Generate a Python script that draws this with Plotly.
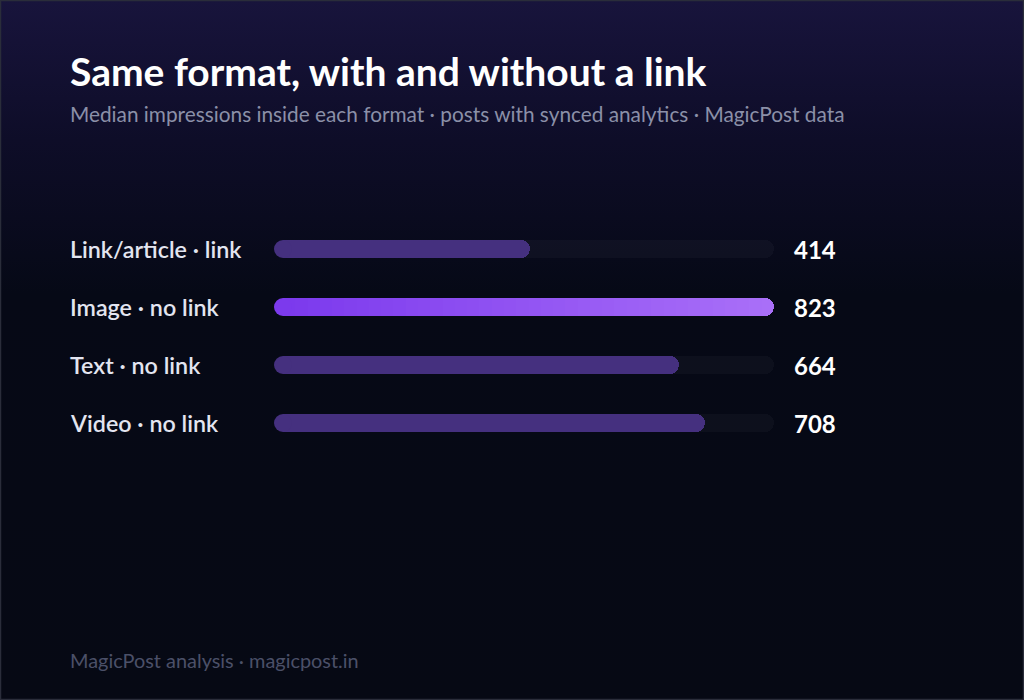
import base64
import plotly.graph_objects as go

categories = ["Link/article · link", "Image · no link", "Text · no link", "Video · no link"]
values = [414, 823, 664, 708]
highlight = "Image · no link"

title = "Same format, with and without a link"
subtitle = "Median impressions inside each format · posts with synced analytics · MagicPost data"
footer = "MagicPost analysis · magicpost.in"

W, H = 1024, 700
FONT = "Lato"
BAR_COLOR = "#45307f"
GRAD_START = (0x7c, 0x3a, 0xed)
GRAD_END = (0xa9, 0x6f, 0xf8)
TRACK = "rgba(255,255,255,0.03)"
BAR_PX = 18
vmax = max(values)
TX = 68 / W

fig = go.Figure()

# tracks (own subplot so rounding of value bars is independent)
fig.add_trace(go.Bar(
    y=categories, x=[vmax] * len(categories), orientation="h",
    marker=dict(color=TRACK, cornerradius=BAR_PX // 2, line=dict(width=0)),
    width=0.31, hoverinfo="skip", showlegend=False, xaxis="x",
))

def hexc(c):
    return "#%02x%02x%02x" % c

def lerp(a, b, t):
    return tuple(int(round(a[i] + (b[i] - a[i]) * t)) for i in range(3))

for cat, v in zip(categories, values):
    if cat == highlight:
        fig.add_trace(go.Bar(
            y=[cat], x=[v], orientation="h", xaxis="x2",
            marker=dict(color=hexc(GRAD_END), cornerradius=BAR_PX // 2, line=dict(width=0)),
            width=0.31, hoverinfo="skip", showlegend=False,
        ))
        n = 40
        seg = v / n
        fig.add_trace(go.Bar(
            y=[cat] * (n - 1), x=[seg * 1.02] * (n - 1), base=[seg * i for i in range(n - 1)],
            orientation="h", xaxis="x2",
            marker=dict(color=[hexc(lerp(GRAD_START, GRAD_END, i / (n - 1))) for i in range(n - 1)],
                        line=dict(width=0)),
            width=0.31, hoverinfo="skip", showlegend=False,
        ))
        cap = hexc(GRAD_START)
    else:
        fig.add_trace(go.Bar(
            y=[cat], x=[v], orientation="h", xaxis="x2",
            marker=dict(color=BAR_COLOR, cornerradius=BAR_PX // 2, line=dict(width=0)),
            width=0.31, hoverinfo="skip", showlegend=False,
        ))
        cap = BAR_COLOR
    fig.add_trace(go.Scatter(
        x=[0], y=[cat], mode="markers", cliponaxis=False, xaxis="x2",
        marker=dict(size=BAR_PX, color=cap, line=dict(width=0)),
        hoverinfo="skip", showlegend=False,
    ))

annotations = []
for cat, v in zip(categories, values):
    annotations.append(dict(
        x=TX, xref="paper", y=cat, yref="y", xanchor="left", yanchor="middle",
        text=cat, showarrow=False,
        font=dict(family=FONT, size=23.3, color="#e3e5f0", weight=600),
    ))
    annotations.append(dict(
        x=792 / W, xref="paper", y=cat, yref="y", xanchor="left", yanchor="middle",
        text=f"<b>{v}</b>", showarrow=False,
        font=dict(family=FONT, size=24, color="#ffffff"),
    ))

annotations += [
    dict(x=TX, y=1 - 71 / H, xref="paper", yref="paper", xanchor="left", yanchor="middle",
         text=f"<b>{title}</b>", showarrow=False, font=dict(family=FONT, size=39, color="#ffffff")),
    dict(x=TX, y=1 - 114 / H, xref="paper", yref="paper", xanchor="left", yanchor="middle",
         text=subtitle, showarrow=False, font=dict(family=FONT, size=20.8, color="#8b90a8")),
    dict(x=TX, y=1 - 660 / H, xref="paper", yref="paper", xanchor="left", yanchor="middle",
         text=footer, showarrow=False, font=dict(family=FONT, size=19.9, color="#4b5068")),
]

svg = f'''<svg xmlns="http://www.w3.org/2000/svg" width="{W}" height="{H}" viewBox="0 0 {W} {H}" preserveAspectRatio="none">
<defs><linearGradient id="g" x1="0" y1="0" x2="0" y2="1">
<stop offset="0" stop-color="#18143c"/>
<stop offset="0.2" stop-color="#0e0d28"/>
<stop offset="0.42" stop-color="#060916"/>
<stop offset="1" stop-color="#060914"/>
</linearGradient></defs>
<rect width="{W}" height="{H}" fill="url(#g)"/>
<rect x="0.5" y="0.5" width="{W-1}" height="{H-1}" fill="none" stroke="#2a2d3a" stroke-width="1.5"/>
</svg>'''
src = "data:image/svg+xml;base64," + base64.b64encode(svg.encode()).decode()

row_px = 58
top_px = 249 - row_px / 2
bot_px = top_px + row_px * len(categories)
xdom = [283 / W, 774 / W]

fig.update_layout(
    width=W, height=H,
    margin=dict(l=0, r=0, t=0, b=0),
    paper_bgcolor="#060914", plot_bgcolor="rgba(0,0,0,0)",
    barmode="overlay", bargap=0,
    showlegend=False,
    xaxis=dict(domain=xdom, range=[0, vmax], visible=False, fixedrange=True),
    xaxis2=dict(domain=xdom, range=[0, vmax], visible=False, fixedrange=True,
                overlaying="x", anchor="y"),
    yaxis=dict(domain=[1 - bot_px / H, 1 - top_px / H], categoryorder="array",
               categoryarray=categories, autorange="reversed", visible=False, fixedrange=True),
    annotations=annotations,
    images=[dict(source=src, xref="paper", yref="paper", x=0, y=1, sizex=1, sizey=1,
                 xanchor="left", yanchor="top", sizing="stretch", layer="below")],
)

fig.write_html("out.html", config={"displayModeBar": False},
               post_script="document.body.style.margin='0';document.body.style.overflow='hidden';document.body.style.background='#060914';")
